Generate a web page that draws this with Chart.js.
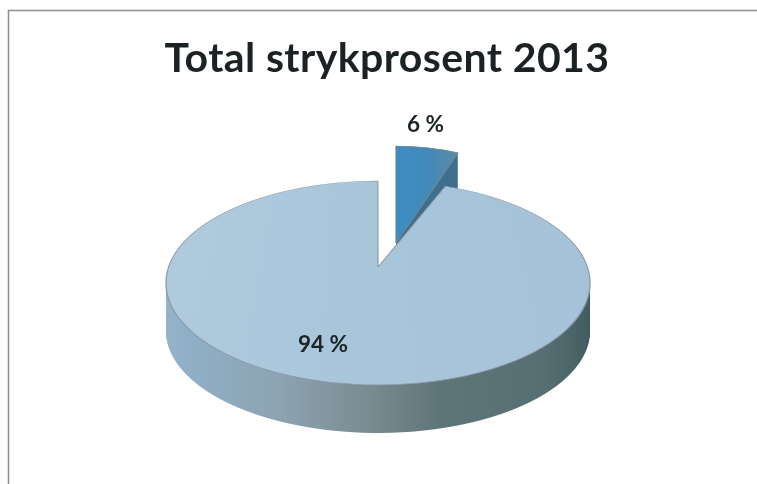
<!DOCTYPE html>
<html>
<head>
<meta charset="utf-8">
<style>html,body{margin:0;padding:0;background:#fff}canvas{display:block}</style>
<script src="https://cdn.jsdelivr.net/npm/chart.js@4"></script>
</head>
<body>
<canvas id="c" width="757" height="484"></canvas>
<script>
const categories = ["Stryk", "Bestått"];
const percentages = [6, 94];
const chartTitle = "Total strykprosent 2013";

const view = {
  cx: 378, cy: 267, radius: 212, tilt: 0.469, persp: 0.00074, widthFit: 0.9876, depth: 48,
  top: 178, bottom: 388, sideTop: 262,
  smallX: 396, smallY: 243, smallSx: 0.795, smallSy: 0.457, smallDepth: 34
};
const labelSpots = [{x: 425.5, y: 125}, {x: 323, y: 345}];

function withOptions(arc, extra, fn) {
  const saved = arc.options;
  arc.options = Object.assign({}, saved, {offset: 0, spacing: 0}, extra);
  fn();
  arc.options = saved;
}
function linear(ctx, x0, x1, stops) {
  const g = ctx.createLinearGradient(x0, 0, x1, 0);
  stops.forEach(s => g.addColorStop(s[0], s[1]));
  return g;
}
function rowToDisc(row) {
  const t = (row - view.cy) / view.tilt;
  return t / (1 + view.persp * t);
}

function drawBig(ctx, chart, arc, yOff, extra, firstRow) {
  withOptions(arc, extra, () => {
    for (let row = firstRow; row < view.bottom; row++) {
      const v0 = rowToDisc(row), v1 = rowToDisc(row + 1);
      const k = view.widthFit / (1 - view.persp * (v0 + v1) / 2);
      ctx.save();
      ctx.beginPath();
      ctx.rect(0, row + yOff, chart.width, 1);
      ctx.clip();
      ctx.translate(view.cx, row + yOff);
      ctx.scale(k, 1 / (v1 - v0));
      ctx.translate(-arc.x, -(arc.y + v0));
      arc.draw(ctx);
      ctx.restore();
    }
  });
}
function drawSmall(ctx, arc, yOff, extra) {
  ctx.save();
  ctx.translate(view.smallX, view.smallY + yOff);
  ctx.scale(view.smallSx, view.smallSy);
  ctx.translate(-arc.x, -arc.y);
  withOptions(arc, extra, () => arc.draw(ctx));
  ctx.restore();
}

const pie3d = {
  id: "pie3d",
  beforeDraw(chart) {
    const ctx = chart.ctx;
    ctx.save();
    ctx.fillStyle = "#fff";
    ctx.fillRect(0, 0, chart.width, chart.height);
    ctx.strokeStyle = "#8d8f8c";
    ctx.lineWidth = 1.5;
    ctx.beginPath();
    ctx.moveTo(8.5, 484);
    ctx.lineTo(8.5, 10.5);
    ctx.lineTo(757, 10.5);
    ctx.stroke();
    ctx.restore();
    ctx.letterSpacing = "0.4px";
  },
  beforeDatasetsDraw(chart) {
    const ctx = chart.ctx;
    ctx.letterSpacing = "0px";
    const arcs = chart.getDatasetMeta(0).data;
    const small = arcs[0], big = arcs[1];

    for (let d = view.smallDepth; d >= 1; d--) {
      drawSmall(ctx, small, d, {backgroundColor: "#3f6f8c", borderWidth: 0});
    }
    const sx = small.x;
    drawSmall(ctx, small, 0, {
      backgroundColor: linear(ctx, sx, sx + 78, [[0, "#3d8dc4"], [0.55, "#4389b8"], [1, "#5d8aa3"]]),
      borderColor: "#6f8794", borderWidth: 1.5
    });

    const X = big.x - view.radius, span = view.radius * 2;
    const side = linear(ctx, X, X + span, [
      [0, "#96b5cc"], [0.1, "#8fafc6"], [0.3, "#8da3b1"], [0.5, "#76898e"],
      [0.62, "#5f7679"], [0.85, "#566f72"], [1, "#3f5a5e"]
    ]);
    for (let d = view.depth; d >= 1; d--) {
      drawBig(ctx, chart, big, d, {backgroundColor: side, borderWidth: 0}, view.sideTop);
    }
    const face = linear(ctx, X, X + span, [[0, "#b0cadd"], [0.5, "#a8c5da"], [1, "#a5c2d8"]]);
    drawBig(ctx, chart, big, 0, {backgroundColor: face, borderColor: "#8a9aa6", borderWidth: 1.2}, view.top);

    ctx.save();
    ctx.font = "bold 22.5px Lato";
    ctx.fillStyle = "#1c2426";
    ctx.textAlign = "center";
    ctx.textBaseline = "middle";
    percentages.forEach((v, i) => ctx.fillText(v + " %", labelSpots[i].x, labelSpots[i].y));
    ctx.restore();
    return false;
  }
};

new Chart(document.getElementById("c"), {
  type: "pie",
  data: {
    labels: categories,
    datasets: [{
      data: percentages,
      radius: view.radius,
      borderWidth: 0,
      backgroundColor: ["#3d8dc4", "#a9c6dc"]
    }]
  },
  options: {
    responsive: false,
    animation: false,
    events: [],
    layout: {padding: {left: 17, right: 0, top: 0, bottom: 0}},
    plugins: {
      legend: {display: false},
      tooltip: {enabled: false},
      title: {
        display: true,
        text: chartTitle,
        color: "#1c2224",
        font: {family: "Lato", size: 41, weight: "bold"},
        padding: {top: 34, bottom: 10}
      }
    }
  },
  plugins: [pie3d]
});
</script>
</body>
</html>
